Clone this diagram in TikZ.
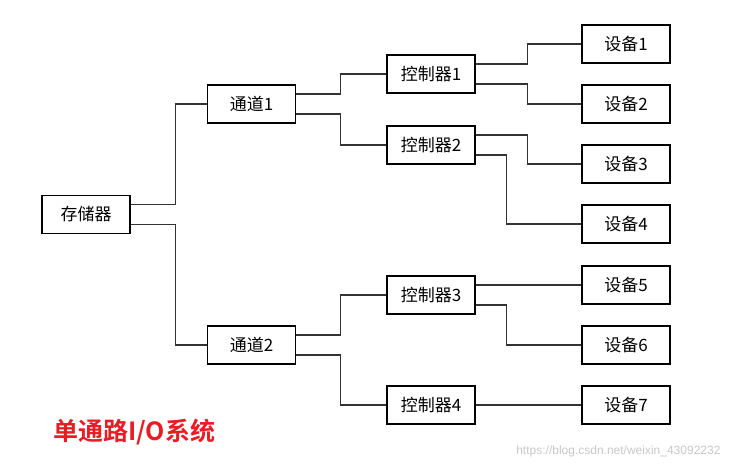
\documentclass[tikz,border=0pt]{standalone}
\usepackage{fontspec}
\setmainfont{Liberation Serif}
\newfontfamily\cjk{Noto Sans CJK SC}
\newfontfamily\cjkbold{Noto Sans CJK SC Bold}
\setsansfont{Liberation Sans}
\definecolor{titlered}{RGB}{232,28,36}
\begin{document}
\begin{tikzpicture}[x=1pt,y=-1pt]
		\tikzset{unit/.style = {draw,line width=1.6pt,minimum width=88pt,minimum height=38pt,inner sep=0pt,font=\cjk\fontsize{17}{17}\selectfont}}
		\tikzset{wire/.style = {draw,line width=1.2pt,black!80}}
		\useasboundingbox (0,0) rectangle (732,469);
		% memory and channels
		\node[unit] (mem) at (86,214.5) {存储器};
		\node[unit] (ch1) at (251.5,104) {通道1};
		\node[unit] (ch2) at (251.5,345) {通道2};
		% controllers
		\node[unit] (k1) at (431,74) {控制器1};
		\node[unit] (k2) at (431,145) {控制器2};
		\node[unit] (k3) at (431,295) {控制器3};
		\node[unit] (k4) at (431,405) {控制器4};
		% devices
		\node[unit] (d1) at (626,44) {设备1};
		\node[unit] (d2) at (626,104) {设备2};
		\node[unit] (d3) at (626,164) {设备3};
		\node[unit] (d4) at (626,224) {设备4};
		\node[unit] (d5) at (626,285) {设备5};
		\node[unit] (d6) at (626,345) {设备6};
		\node[unit] (d7) at (626,405) {设备7};
		% connections
		\path[wire] ([yshift=10pt]mem.east) -- ++(45,0) |- (ch1.west);
		\path[wire] ([yshift=-10pt]mem.east) -- ++(45,0) |- (ch2.west);
		\path[wire] ([yshift=10pt]ch1.east) -- ++(44,0) |- (k1.west);
		\path[wire] ([yshift=-10pt]ch1.east) -- ++(44,0) |- (k2.west);
		\path[wire] ([yshift=10pt]ch2.east) -- ++(44,0) |- (k3.west);
		\path[wire] ([yshift=-10pt]ch2.east) -- ++(44,0) |- (k4.west);
		\path[wire] ([yshift=10pt]k1.east) -- ++(52,0) |- (d1.west);
		\path[wire] ([yshift=-10pt]k1.east) -- ++(52,0) |- (d2.west);
		\path[wire] ([yshift=10pt]k2.east) -- ++(52,0) |- (d3.west);
		\path[wire] ([yshift=-10pt]k2.east) -- ++(31,0) |- (d4.west);
		\path[wire] ([yshift=10pt]k3.east) -- (d5.west);
		\path[wire] ([yshift=-10pt]k3.east) -- ++(31,0) |- (d6.west);
		\path[wire] (k4.east) -- (d7.west);
		% caption
		\node[font=\cjkbold\fontsize{25}{25}\selectfont,text=titlered,anchor=west,inner sep=0pt] (title) at (53,432) {单通路I/O系统};
		\node[font=\sffamily\fontsize{12}{12}\selectfont,text=black!22,anchor=east] (url) at (724,451) {https://blog.csdn.net/weixin\_43092232};
	\end{tikzpicture}
\end{document}
